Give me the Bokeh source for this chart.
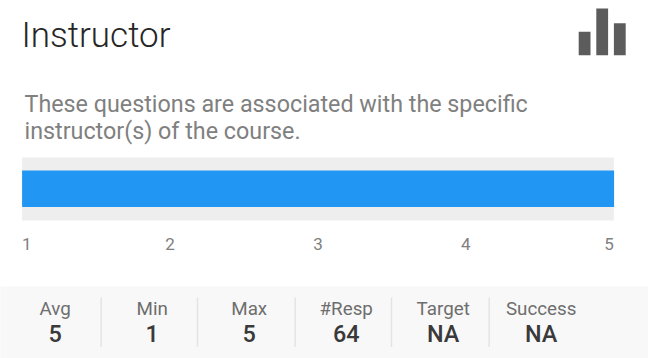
from bokeh.plotting import figure
from bokeh.models import Range1d
from bokeh.core.properties import value
from bokeh.embed import file_html
from bokeh.resources import INLINE

title = "Instructor"
description = ["These questions are associated with the specific", "instructor(s) of the course."]
scale_ticks = [1, 2, 3, 4, 5]
scale_tick_labels = ["1", "2", "3", "4", "5"]
scale_min = 1
scale_max = 5
bar_start = 1
bar_end = 5
stat_names = ["Avg", "Min", "Max", "#Resp", "Target", "Success"]
stat_values = ["5", "1", "5", "64", "NA", "NA"]
icon_heights = [23.4, 46.7, 32]

W, H = 648, 358
X0, X1 = 21.6, 613.3
u = (X1 - X0) / (scale_max - scale_min)
x_range = Range1d(scale_min - X0 / u, scale_max + (W - X1) / u)

p = figure(width=W, height=H, output_backend="svg", toolbar_location=None,
           x_range=x_range, y_range=Range1d(H + 1, 1),
           x_axis_location=None, y_axis_location=None,
           min_border=0, min_border_left=0, min_border_right=0, min_border_top=0, min_border_bottom=0,
           outline_line_color=None, background_fill_color="white", border_fill_color="white")
p.grid.visible = False
p.extra_x_ranges["px"] = Range1d(1, W + 1)

# header
p.text(x=[22], y=[36], text=[title], x_range_name="px", text_font=value("Roboto Light"),
       text_font_size="35px", text_color="#262626", text_baseline="middle")
p.text(x=[25, 25], y=[104, 131], text=description, x_range_name="px", text_font=value("Roboto"),
       text_font_size="23.3px", text_color="#808080", text_baseline="middle")

# icon
icon_left = [579.2, 596.8, 614.4]
p.vbar(x=[l + 5.9 for l in icon_left], width=11.8, bottom=[55.7] * 3,
       top=[55.7 - h for h in icon_heights], x_range_name="px",
       fill_color="#5c5c5c", line_color=None)

# track and bar, through the value scale
p.quad(left=[scale_min], right=[scale_max], top=[158], bottom=[221], fill_color="#eeeeee", line_color=None)
p.quad(left=[bar_start], right=[bar_end + 0.002], top=[171], bottom=[207.5], fill_color="#2196f3", line_color=None)

# scale tick labels
aligns = ["left", "center", "center", "center", "right"]
p.text(x=scale_ticks, y=[244] * 5, text=scale_tick_labels, text_font=value("Roboto"),
       text_font_size="17px", text_color="#808080", text_align=aligns, text_baseline="middle")

# footer
p.quad(left=[0], right=[W + 1], top=[287], bottom=[359], x_range_name="px", fill_color="#f8f8f8", line_color=None)
div_x = [101.7, 198, 295.7, 392, 489.7]
p.segment(x0=div_x, x1=div_x, y0=[298] * 5, y1=[347.5] * 5, x_range_name="px", line_color="#e4e4e4", line_width=1.5)
stat_x = [55.7, 152.7, 249.7, 346.7, 443.7, 541.7]
p.text(x=stat_x, y=[309] * 6, text=stat_names, x_range_name="px", text_font=value("Roboto"),
       text_font_size="18.8px", text_color="#6e6e6e", text_align="center", text_baseline="middle")
p.text(x=stat_x, y=[334] * 6, text=stat_values, x_range_name="px", text_font=value("Roboto Medium"),
       text_font_size="23.4px", text_color="#3a3a3a", text_align="center", text_baseline="middle")

open("out.html", "w").write(file_html(p, INLINE))
